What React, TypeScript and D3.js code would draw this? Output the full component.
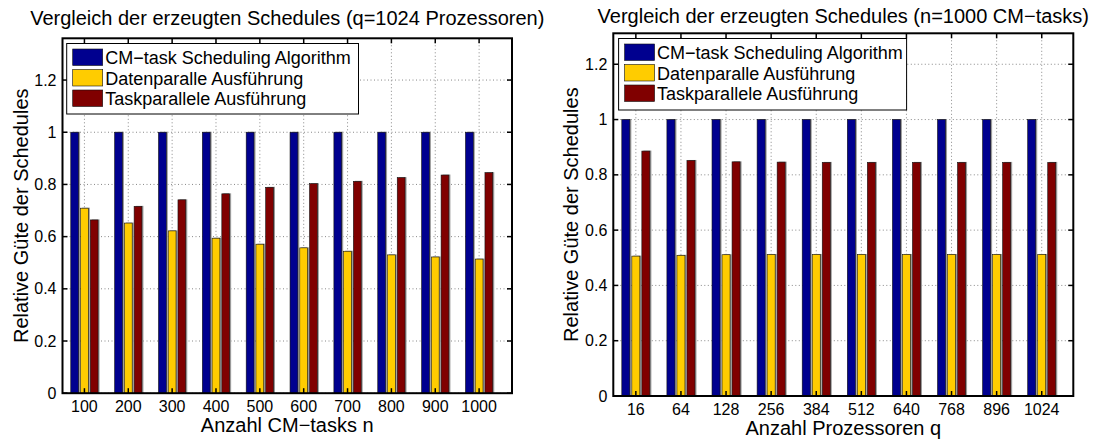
import { scaleLinear } from "d3"

const seriesNames = ["CM−task Scheduling Algorithm", "Datenparalle Ausführung", "Taskparallele Ausführung"]
const seriesColors = ["#00008f", "#ffcc00", "#800000"]

// left chart: q = 1024, varying n
const taskLabels = ["100", "200", "300", "400", "500", "600", "700", "800", "900", "1000"]
const taskCm = [1, 1, 1, 1, 1, 1, 1, 1, 1, 1]
const taskData = [0.709, 0.652, 0.622, 0.594, 0.571, 0.557, 0.544, 0.530, 0.522, 0.514]
const taskTask = [0.664, 0.716, 0.741, 0.764, 0.789, 0.803, 0.812, 0.826, 0.836, 0.845]

// right chart: n = 1000, varying q
const procLabels = ["16", "64", "128", "256", "384", "512", "640", "768", "896", "1024"]
const procCm = [1, 1, 1, 1, 1, 1, 1, 1, 1, 1]
const procData = [0.506, 0.509, 0.511, 0.512, 0.512, 0.512, 0.512, 0.512, 0.512, 0.512]
const procTask = [0.886, 0.852, 0.847, 0.846, 0.845, 0.845, 0.845, 0.845, 0.845, 0.845]

const yTicks = [0, 0.2, 0.4, 0.6, 0.8, 1, 1.2]

const font = "'Liberation Sans', Arial, Helvetica, sans-serif"
const barOffsets = [-0.2222, 0, 0.2222]
const barWidth = 0.178

function Panel(props) {
    const { title, titleY, xLabel, labels, series, box, xMax, yMax, legend } = props
    const x = scaleLinear().domain([0.5, xMax]).range([box.x0, box.x1])
    const y = scaleLinear().domain([0, yMax]).range([box.y1, box.y0])
    const bw = x(barWidth) - x(0)
    const cx = (box.x0 + box.x1) / 2
    const cy = (box.y0 + box.y1) / 2

    return (
        <g fontFamily={font} fill="#000">
            {/* grid */}
            {yTicks.map(t => (
                <line key={"gy" + t} x1={box.x0} x2={box.x1} y1={y(t)} y2={y(t)}
                    stroke="#888" strokeDasharray="1 2.5" />
            ))}
            {labels.map((l, i) => (
                <line key={"gx" + l} x1={x(i + 1)} x2={x(i + 1)} y1={box.y0} y2={box.y1}
                    stroke="#888" strokeDasharray="1 2.5" />
            ))}

            {/* bars */}
            {series.map((vals, s) => vals.map((v, i) => {
                const bx = x(i + 1 + barOffsets[s]) - bw / 2
                return (
                    <g key={`b${s}-${i}`}>
                        <rect x={bx + 1.5} y={y(v) - 0.5} width={bw} height={y(0) - y(v) + 0.5} fill="#9a9a9a" />
                        <rect x={bx} y={y(v)} width={bw} height={y(0) - y(v)}
                            fill={seriesColors[s]} stroke="#111" strokeWidth={0.6} />
                    </g>
                )
            }))}

            {/* ticks */}
            {yTicks.map(t => (
                <g key={"ty" + t}>
                    <line x1={box.x0} x2={box.x0 + 5} y1={y(t)} y2={y(t)} stroke="#000" strokeWidth={1.5} />
                    <line x1={box.x1} x2={box.x1 - 5} y1={y(t)} y2={y(t)} stroke="#000" strokeWidth={1.5} />
                    <text x={box.x0 - 6} y={y(t)} dy="0.35em" textAnchor="end" fontSize={16}>
                        {String(+t.toFixed(1))}
                    </text>
                </g>
            ))}
            {labels.map((l, i) => (
                <g key={"tx" + l}>
                    <line x1={x(i + 1)} x2={x(i + 1)} y1={box.y1} y2={box.y1 - 5} stroke="#000" strokeWidth={1.5} />
                    <line x1={x(i + 1)} x2={x(i + 1)} y1={box.y0} y2={box.y0 + 5} stroke="#000" strokeWidth={1.5} />
                    <text x={x(i + 1)} y={box.y1 + 19} textAnchor="middle" fontSize={16}>{l}</text>
                </g>
            ))}

            {/* axes box */}
            <rect x={box.x0} y={box.y0} width={box.x1 - box.x0} height={box.y1 - box.y0}
                fill="none" stroke="#000" strokeWidth={2} />

            {/* labels */}
            <text x={cx} y={titleY} textAnchor="middle" fontSize={20}>{title}</text>
            <text x={cx} y={box.y1 + 38.5} textAnchor="middle" fontSize={20}>{xLabel}</text>
            <text transform={`translate(${box.x0 - 35}, ${cy}) rotate(-90)`} textAnchor="middle" fontSize={20}>
                Relative Güte der Schedules
            </text>

            {/* legend */}
            <rect x={legend.x} y={legend.y} width={legend.w} height={legend.h} fill="#fff" stroke="#000" strokeWidth={1} />
            {seriesNames.map((name, s) => {
                const ry = legend.y + 5.5 + s * 20.5
                return (
                    <g key={name}>
                        <rect x={legend.x + 6} y={ry} width={30} height={16.5}
                            fill={seriesColors[s]} stroke="#111" strokeWidth={0.6} />
                        <text x={legend.x + 38.5} y={ry + 15} fontSize={18}>{name}</text>
                    </g>
                )
            })}
        </g>
    )
}

export default function App() {
    return (
        <div style={{ position: "absolute", left: 0, top: 0 }}>
            <svg width={1101} height={439} style={{ display: "block", background: "#fff" }}>
                <Panel
                    title="Vergleich der erzeugten Schedules (q=1024 Prozessoren)"
                    titleY={25}
                    xLabel="Anzahl CM−tasks n"
                    labels={taskLabels}
                    series={[taskCm, taskData, taskTask]}
                    box={{ x0: 62.5, x1: 512, y0: 38.3, y1: 393.2 }}
                    xMax={10.75}
                    yMax={1.36}
                    legend={{ x: 66.7, y: 43.5, w: 291.8, h: 70.5 }}
                />
                <Panel
                    title="Vergleich der erzeugten Schedules (n=1000 CM−tasks)"
                    titleY={23}
                    xLabel="Anzahl Prozessoren q"
                    labels={procLabels}
                    series={[procCm, procData, procTask]}
                    box={{ x0: 613.3, x1: 1073.3, y0: 33.3, y1: 396 }}
                    xMax={10.7}
                    yMax={1.312}
                    legend={{ x: 618.6, y: 38.5, w: 288, h: 71.5 }}
                />
            </svg>
        </div>
    )
}
